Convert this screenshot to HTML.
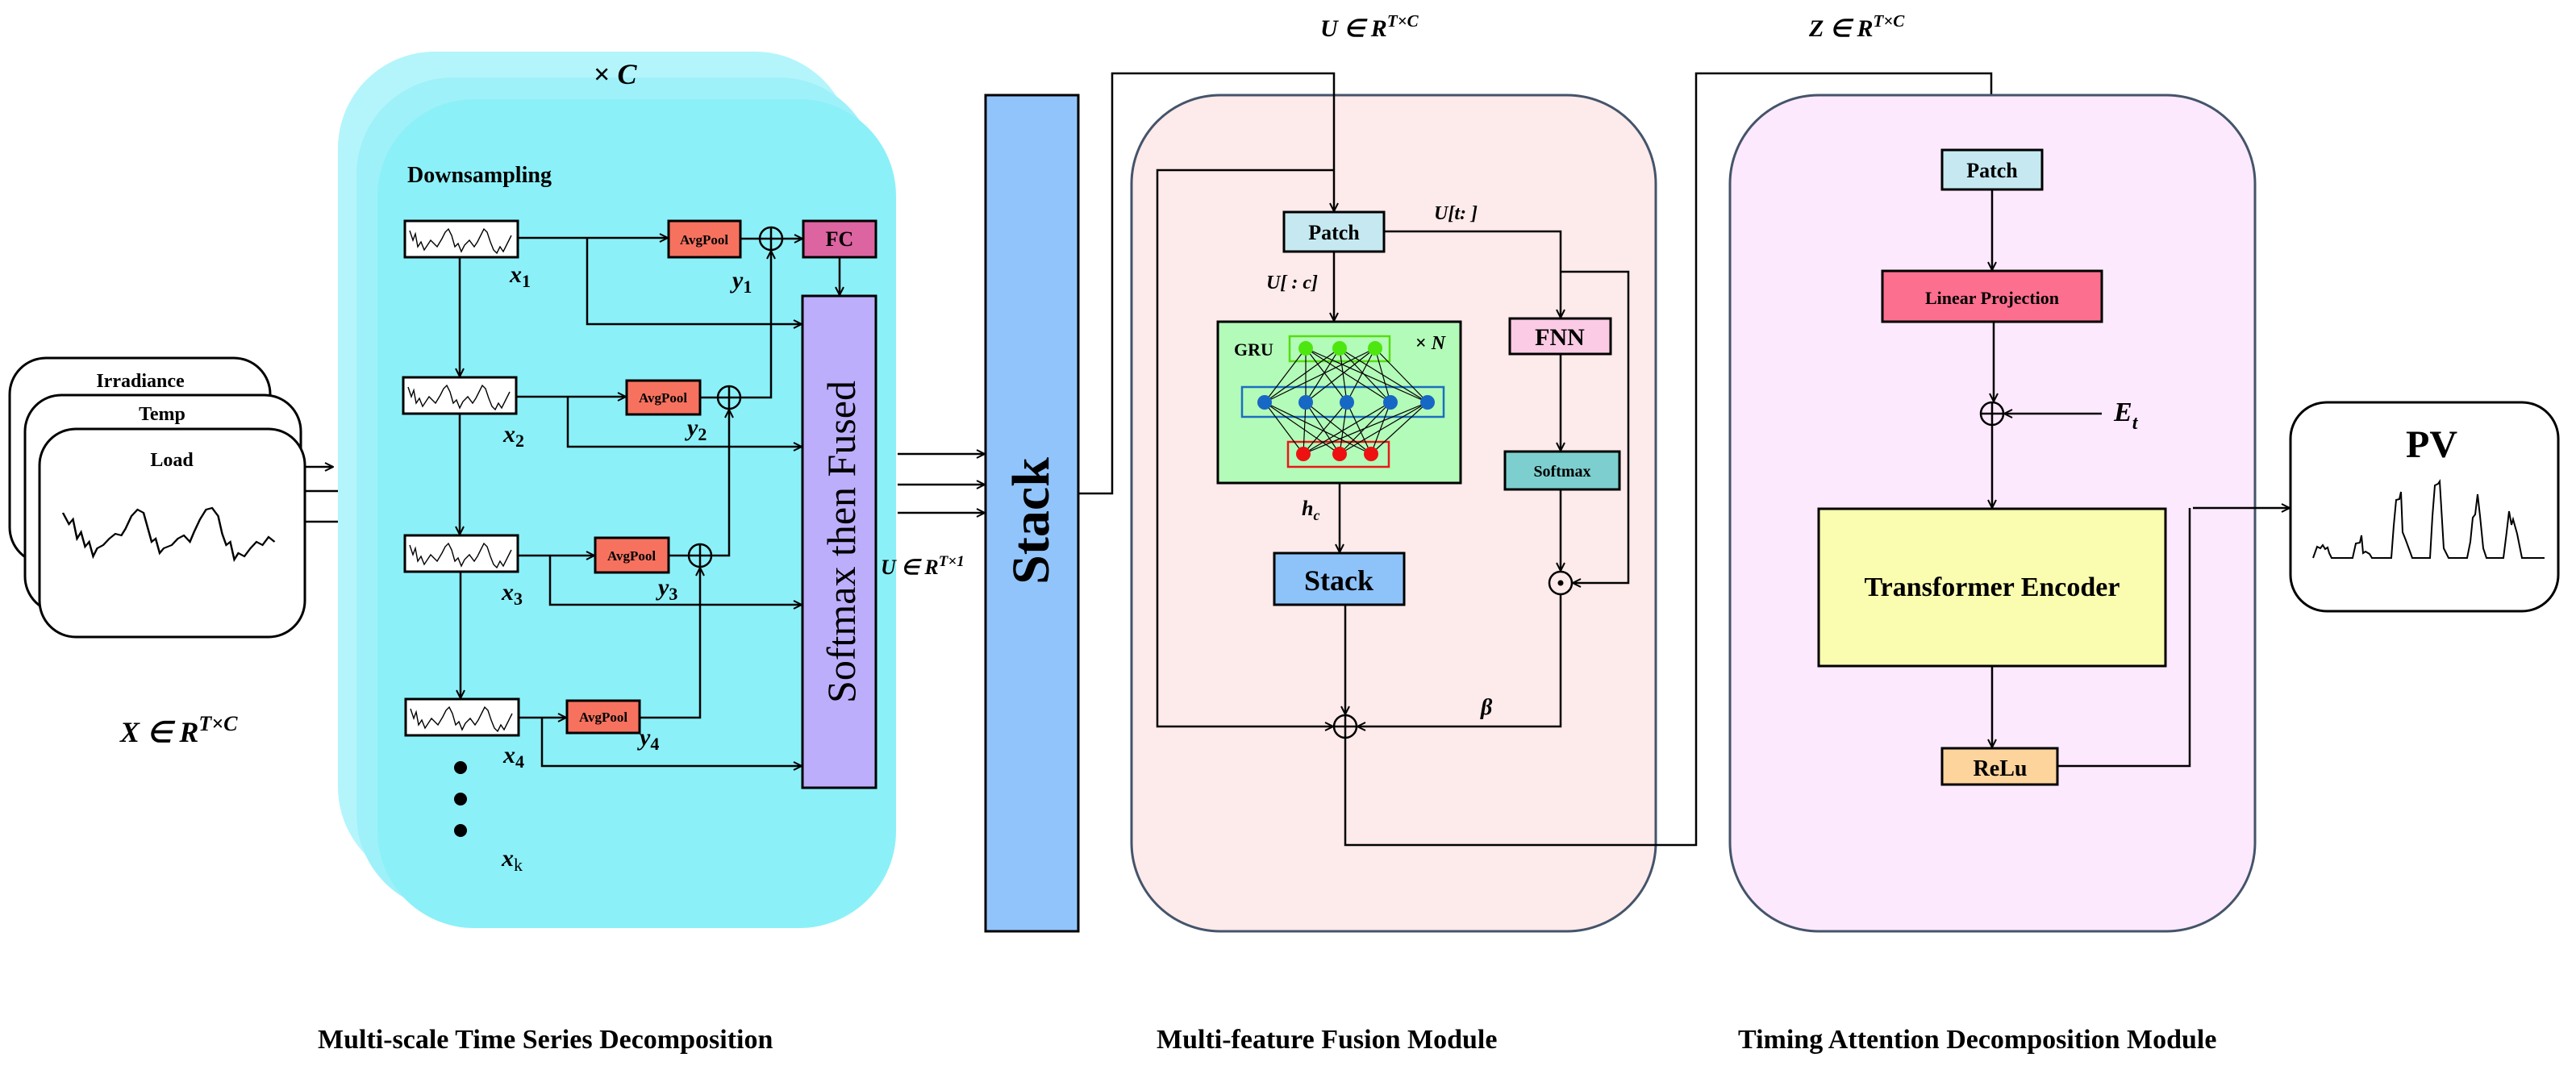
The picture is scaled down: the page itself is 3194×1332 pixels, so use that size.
<!DOCTYPE html>
<html><head><meta charset="utf-8"><style>
html,body{margin:0;padding:0;background:#fff;}
svg{display:block;}
text{font-family:"Liberation Serif",serif;font-weight:bold;fill:#000;}
.m{font-style:italic;}
</style></head><body>
<svg width="3194" height="1332" viewBox="0 0 3194 1332" xmlns="http://www.w3.org/2000/svg">
<defs>
<marker id="a" viewBox="0 0 12 12" refX="11" refY="6" markerWidth="12" markerHeight="12" markerUnits="userSpaceOnUse" orient="auto">
<path d="M1,1 L11,6 L1,11" fill="none" stroke="#000" stroke-width="2"/>
</marker>
<path id="w" d="M4,10 L8,22 L11,14 L14,30 L18,24 L22,34 L26,28 L30,22 L34,26 L38,30 L44,20 L48,12 L52,8 L56,16 L60,30 L64,26 L68,36 L72,28 L78,22 L84,30 L88,24 L92,16 L96,8 L100,12 L104,24 L108,34 L112,38 L116,30 L120,36 L124,28 L130,16" fill="none" stroke="#000" stroke-width="1.4"/>
</defs>

<!-- Input cards -->
<rect x="12" y="444" width="323" height="255" rx="45" fill="#fff" stroke="#000" stroke-width="3"/>
<rect x="31" y="490" width="342" height="270" rx="45" fill="#fff" stroke="#000" stroke-width="3"/>
<rect x="49" y="532" width="329" height="258" rx="45" fill="#fff" stroke="#000" stroke-width="3"/>
<text x="174" y="480" font-size="24" text-anchor="middle">Irradiance</text>
<text x="201" y="521" font-size="24" text-anchor="middle">Temp</text>
<text x="213" y="578" font-size="24" text-anchor="middle">Load</text>
<path transform="translate(78,0) scale(1.25,1) translate(-78,0)" d="M78,636 L84,650 L88,644 L92,668 L96,660 L100,678 L104,672 L108,690 L112,680 L118,676 L124,668 L130,662 L136,664 L140,656 L146,640 L152,632 L158,636 L162,654 L166,672 L170,668 L174,686 L178,680 L186,676 L192,668 L198,664 L204,672 L208,660 L214,644 L220,632 L226,630 L232,640 L236,662 L240,676 L244,672 L248,694 L252,686 L258,690 L264,680 L270,672 L276,676 L282,666 L288,672" fill="none" stroke="#000" stroke-width="2"/>
<line x1="378" y1="579" x2="413" y2="579" stroke="#000" stroke-width="2.5" marker-end="url(#a)"/>
<line x1="378" y1="609" x2="435" y2="609" stroke="#000" stroke-width="2.5" marker-end="url(#a)"/>
<line x1="378" y1="647" x2="463" y2="647" stroke="#000" stroke-width="2.5" marker-end="url(#a)"/>
<text x="149" y="920" font-size="36" class="m">X ∈ R<tspan font-size="26" dy="-14">T×C</tspan></text>

<!-- Cyan stacked panel -->
<rect x="419" y="64" width="637" height="1032" rx="120" fill="#b4f5fb"/>
<rect x="442" y="96" width="644" height="1034" rx="120" fill="#9ff1f9"/>
<rect x="468" y="123" width="643" height="1028" rx="120" fill="#8cf0f8"/>
<text x="736" y="104" font-size="36">× <tspan class="m">C</tspan></text>
<text x="505" y="226" font-size="28">Downsampling</text>

<g stroke="#000" stroke-width="3" fill="#fff">
<rect x="502" y="274" width="140" height="45"/>
<rect x="500" y="468" width="140" height="45"/>
<rect x="502" y="664" width="140" height="45"/>
<rect x="503" y="867" width="140" height="45"/>
</g>
<use href="#w" x="504" y="276"/>
<use href="#w" x="502" y="470"/>
<use href="#w" x="504" y="666"/>
<use href="#w" x="505" y="869"/>
<g font-size="30" class="m">
<text x="632" y="350">x<tspan font-size="22" dy="6" font-style="normal">1</tspan></text>
<text x="624" y="548">x<tspan font-size="22" dy="6" font-style="normal">2</tspan></text>
<text x="622" y="744">x<tspan font-size="22" dy="6" font-style="normal">3</tspan></text>
<text x="624" y="946">x<tspan font-size="22" dy="6" font-style="normal">4</tspan></text>
<text x="622" y="1074">x<tspan font-size="22" dy="6" font-style="normal" font-weight="normal">k</tspan></text>
<text x="908" y="357">y<tspan font-size="22" dy="6" font-style="normal">1</tspan></text>
<text x="852" y="540">y<tspan font-size="22" dy="6" font-style="normal">2</tspan></text>
<text x="816" y="738">y<tspan font-size="22" dy="6" font-style="normal">3</tspan></text>
<text x="793" y="924">y<tspan font-size="22" dy="6" font-style="normal">4</tspan></text>
</g>
<circle cx="571" cy="952" r="8"/><circle cx="571" cy="991" r="8"/><circle cx="571" cy="1030" r="8"/>

<g stroke="#000" stroke-width="3">
<rect x="829" y="274" width="89" height="45" fill="#f6725f"/>
<rect x="777" y="472" width="91" height="42" fill="#f6725f"/>
<rect x="738" y="667" width="91" height="43" fill="#f6725f"/>
<rect x="703" y="869" width="90" height="40" fill="#f6725f"/>
<rect x="996" y="274" width="90" height="45" fill="#dc64a0"/>
<rect x="995" y="367" width="91" height="610" fill="#bdaefb"/>
</g>
<g font-size="17" text-anchor="middle">
<text x="873" y="303">AvgPool</text>
<text x="822" y="499">AvgPool</text>
<text x="783" y="695">AvgPool</text>
<text x="748" y="895">AvgPool</text>
</g>
<text x="1041" y="305" font-size="26" text-anchor="middle">FC</text>
<text transform="translate(1060,672) rotate(-90)" font-size="50" style="font-weight:normal" text-anchor="middle">Softmax then Fused</text>

<g stroke="#000" stroke-width="2.5" fill="none">
<line x1="570" y1="319" x2="570" y2="467" marker-end="url(#a)"/>
<line x1="570" y1="513" x2="570" y2="663" marker-end="url(#a)"/>
<line x1="571" y1="709" x2="571" y2="866" marker-end="url(#a)"/>
<line x1="642" y1="295" x2="828" y2="295" marker-end="url(#a)"/>
<line x1="640" y1="492" x2="776" y2="492" marker-end="url(#a)"/>
<line x1="642" y1="689" x2="737" y2="689" marker-end="url(#a)"/>
<line x1="643" y1="890" x2="702" y2="890" marker-end="url(#a)"/>
<polyline points="728,295 728,402 994,402" marker-end="url(#a)"/>
<polyline points="704,492 704,554 994,554" marker-end="url(#a)"/>
<polyline points="682,689 682,750 994,750" marker-end="url(#a)"/>
<polyline points="672,890 672,950 994,950" marker-end="url(#a)"/>
<line x1="918" y1="296" x2="942" y2="296"/>
<line x1="970" y1="296" x2="995" y2="296" marker-end="url(#a)"/>
<line x1="868" y1="493" x2="890" y2="493"/>
<line x1="829" y1="689" x2="854" y2="689"/>
<polyline points="918,493 956,493 956,311" marker-end="url(#a)"/>
<polyline points="882,689 904,689 904,508" marker-end="url(#a)"/>
<polyline points="793,890 868,890 868,704" marker-end="url(#a)"/>
<line x1="1041" y1="319" x2="1041" y2="366" marker-end="url(#a)"/>
<circle cx="956" cy="296" r="14"/><line x1="942" y1="296" x2="970" y2="296"/><line x1="956" y1="282" x2="956" y2="310"/>
<circle cx="904" cy="493" r="14"/><line x1="890" y1="493" x2="918" y2="493"/><line x1="904" y1="479" x2="904" y2="507"/>
<circle cx="868" cy="689" r="14"/><line x1="854" y1="689" x2="882" y2="689"/><line x1="868" y1="675" x2="868" y2="703"/>
<line x1="1113" y1="563" x2="1221" y2="563" marker-end="url(#a)"/>
<line x1="1113" y1="601" x2="1221" y2="601" marker-end="url(#a)"/>
<line x1="1113" y1="636" x2="1221" y2="636" marker-end="url(#a)"/>
</g>
<text x="1092" y="712" font-size="26" class="m">U ∈ R<tspan font-size="19" dy="-10">T×1</tspan></text>
<text x="394" y="1300" font-size="34">Multi-scale Time Series Decomposition</text>

<rect x="1222" y="118" width="115" height="1037" fill="#91c4fb" stroke="#000" stroke-width="3"/>
<text transform="translate(1300,646) rotate(-90)" font-size="66" text-anchor="middle">Stack</text>

<rect x="1403" y="118" width="650" height="1037" rx="110" fill="#fdeaea" stroke="#44546a" stroke-width="3"/>
<text x="1637" y="45" font-size="30" class="m">U ∈ R<tspan font-size="21" dy="-12">T×C</tspan></text>
<g stroke="#000" stroke-width="3">
<rect x="1592" y="263" width="124" height="49" fill="#c6e9f1"/>
<rect x="1510" y="399" width="301" height="200" fill="#b3fbb8"/>
<rect x="1872" y="395" width="125" height="44" fill="#fbcae4"/>
<rect x="1866" y="560" width="142" height="47" fill="#7ccfce"/>
<rect x="1580" y="686" width="161" height="64" fill="#8ec3f9"/>
</g>
<text x="1654" y="297" font-size="26" text-anchor="middle">Patch</text>
<text x="1934" y="428" font-size="30" text-anchor="middle">FNN</text>
<text x="1937" y="591" font-size="20" text-anchor="middle">Softmax</text>
<text x="1660" y="732" font-size="36" text-anchor="middle">Stack</text>
<text x="1530" y="441" font-size="22">GRU</text>
<text x="1755" y="433" font-size="24">× <tspan class="m">N</tspan></text>
<rect x="1599" y="417" width="124" height="31" fill="none" stroke="#55dd11" stroke-width="2.5"/>
<rect x="1540" y="480" width="250" height="37" fill="none" stroke="#1a6fc0" stroke-width="2.5"/>
<rect x="1597" y="548" width="125" height="31" fill="none" stroke="#e81818" stroke-width="2.5"/>
<g stroke="#000" stroke-width="1.2">
<path d="M1619,432 L1568,499 M1619,432 L1619,499 M1619,432 L1670,499 M1619,432 L1724,499 M1619,432 L1770,499 M1661,432 L1568,499 M1661,432 L1619,499 M1661,432 L1670,499 M1661,432 L1724,499 M1661,432 L1770,499 M1705,432 L1568,499 M1705,432 L1619,499 M1705,432 L1670,499 M1705,432 L1724,499 M1705,432 L1770,499"/>
<path d="M1568,499 L1616,563 M1568,499 L1661,563 M1568,499 L1700,563 M1619,499 L1616,563 M1619,499 L1661,563 M1619,499 L1700,563 M1670,499 L1616,563 M1670,499 L1661,563 M1670,499 L1700,563 M1724,499 L1616,563 M1724,499 L1661,563 M1724,499 L1700,563 M1770,499 L1616,563 M1770,499 L1661,563 M1770,499 L1700,563"/>
</g>
<g fill="#4de60f"><circle cx="1619" cy="432" r="9"/><circle cx="1661" cy="432" r="9"/><circle cx="1705" cy="432" r="9"/></g>
<g fill="#1767c4"><circle cx="1568" cy="499" r="9"/><circle cx="1619" cy="499" r="9"/><circle cx="1670" cy="499" r="9"/><circle cx="1724" cy="499" r="9"/><circle cx="1770" cy="499" r="9"/></g>
<g fill="#ee1111"><circle cx="1616" cy="563" r="9"/><circle cx="1661" cy="563" r="9"/><circle cx="1700" cy="563" r="9"/></g>
<text x="1570" y="358" font-size="24" class="m">U[ : c]</text>
<text x="1778" y="272" font-size="24" class="m">U[t: ]</text>
<text x="1614" y="639" font-size="26" class="m">h<tspan font-size="18" dy="6">c</tspan></text>
<text x="1836" y="886" font-size="28" class="m">β</text>

<g stroke="#000" stroke-width="2.5" fill="none">
<polyline points="1337,612 1379,612 1379,91 1654,91 1654,262" marker-end="url(#a)"/>
<polyline points="1654,211 1435,211 1435,901 1653,901" marker-end="url(#a)"/>
<line x1="1654" y1="312" x2="1654" y2="398" marker-end="url(#a)"/>
<polyline points="1716,287 1935,287 1935,394" marker-end="url(#a)"/>
<polyline points="1935,337 2019,337 2019,723 1950,723" marker-end="url(#a)"/>
<line x1="1935" y1="439" x2="1935" y2="559" marker-end="url(#a)"/>
<line x1="1935" y1="607" x2="1935" y2="708" marker-end="url(#a)"/>
<polyline points="1935,737 1935,901 1683,901" marker-end="url(#a)"/>
<line x1="1661" y1="599" x2="1661" y2="685" marker-end="url(#a)"/>
<line x1="1668" y1="750" x2="1668" y2="886" marker-end="url(#a)"/>
<circle cx="1668" cy="901" r="14"/><line x1="1654" y1="901" x2="1682" y2="901"/><line x1="1668" y1="887" x2="1668" y2="915"/>
<circle cx="1935" cy="723" r="14"/>
<polyline points="1668,915 1668,1048 2103,1048 2103,91 2469,91 2469,185" marker-end="url(#a)"/>
</g>
<circle cx="1935" cy="723" r="3.5"/>
<text x="1434" y="1300" font-size="34">Multi-feature Fusion Module</text>

<rect x="2145" y="118" width="651" height="1037" rx="110" fill="#fde9fd" stroke="#44546a" stroke-width="3"/>
<text x="2243" y="45" font-size="30" class="m">Z ∈ R<tspan font-size="21" dy="-12">T×C</tspan></text>
<g stroke="#000" stroke-width="3">
<rect x="2408" y="186" width="124" height="49" fill="#c6e9f1"/>
<rect x="2334" y="336" width="272" height="63" fill="#fd6f8f"/>
<rect x="2255" y="631" width="430" height="195" fill="#fafcb0"/>
<rect x="2408" y="928" width="143" height="45" fill="#fdd49c"/>
</g>
<text x="2470" y="220" font-size="26" text-anchor="middle">Patch</text>
<text x="2470" y="377" font-size="22" text-anchor="middle">Linear Projection</text>
<text x="2470" y="739" font-size="34" text-anchor="middle">Transformer Encoder</text>
<text x="2480" y="962" font-size="28" text-anchor="middle">ReLu</text>
<text x="2621" y="522" font-size="34" class="m">E<tspan font-size="24" dy="10">t</tspan></text>
<g stroke="#000" stroke-width="2.5" fill="none">
<line x1="2470" y1="235" x2="2470" y2="335" marker-end="url(#a)"/>
<line x1="2472" y1="399" x2="2472" y2="498" marker-end="url(#a)"/>
<circle cx="2470" cy="513" r="14"/><line x1="2456" y1="513" x2="2484" y2="513"/><line x1="2470" y1="499" x2="2470" y2="527"/>
<line x1="2606" y1="513" x2="2485" y2="513" marker-end="url(#a)"/>
<line x1="2470" y1="527" x2="2470" y2="630" marker-end="url(#a)"/>
<line x1="2470" y1="826" x2="2470" y2="927" marker-end="url(#a)"/>
<polyline points="2551,950 2715,950 2715,630"/>
<line x1="2719" y1="630" x2="2839" y2="630" marker-end="url(#a)"/>
</g>
<text x="2155" y="1300" font-size="34">Timing Attention Decomposition Module</text>

<rect x="2840" y="499" width="332" height="259" rx="45" fill="#fff" stroke="#000" stroke-width="3"/>
<text x="3015" y="567" font-size="48" text-anchor="middle">PV</text>
<path d="M2868,692 L2873,678 L2877,680 L2880,676 L2883,681 L2886,679 L2888,686 L2891,692 L2917,692 L2921,674 L2926,673 L2928,664 L2930,686 L2933,684 L2938,687 L2941,692 L2965,692 L2968,652 L2971,620 L2975,619 L2977,610 L2979,660 L2983,670 L2991,692 L3013,692 L3016,640 L3019,602 L3023,600 L3025,597 L3027,630 L3030,680 L3036,692 L3059,692 L3063,672 L3066,642 L3069,638 L3072,613 L3075,640 L3079,680 L3083,692 L3104,692 L3108,660 L3111,634 L3114,651 L3116,644 L3121,662 L3127,692 L3155,692" fill="none" stroke="#000" stroke-width="2"/>
</svg>
</body></html>
